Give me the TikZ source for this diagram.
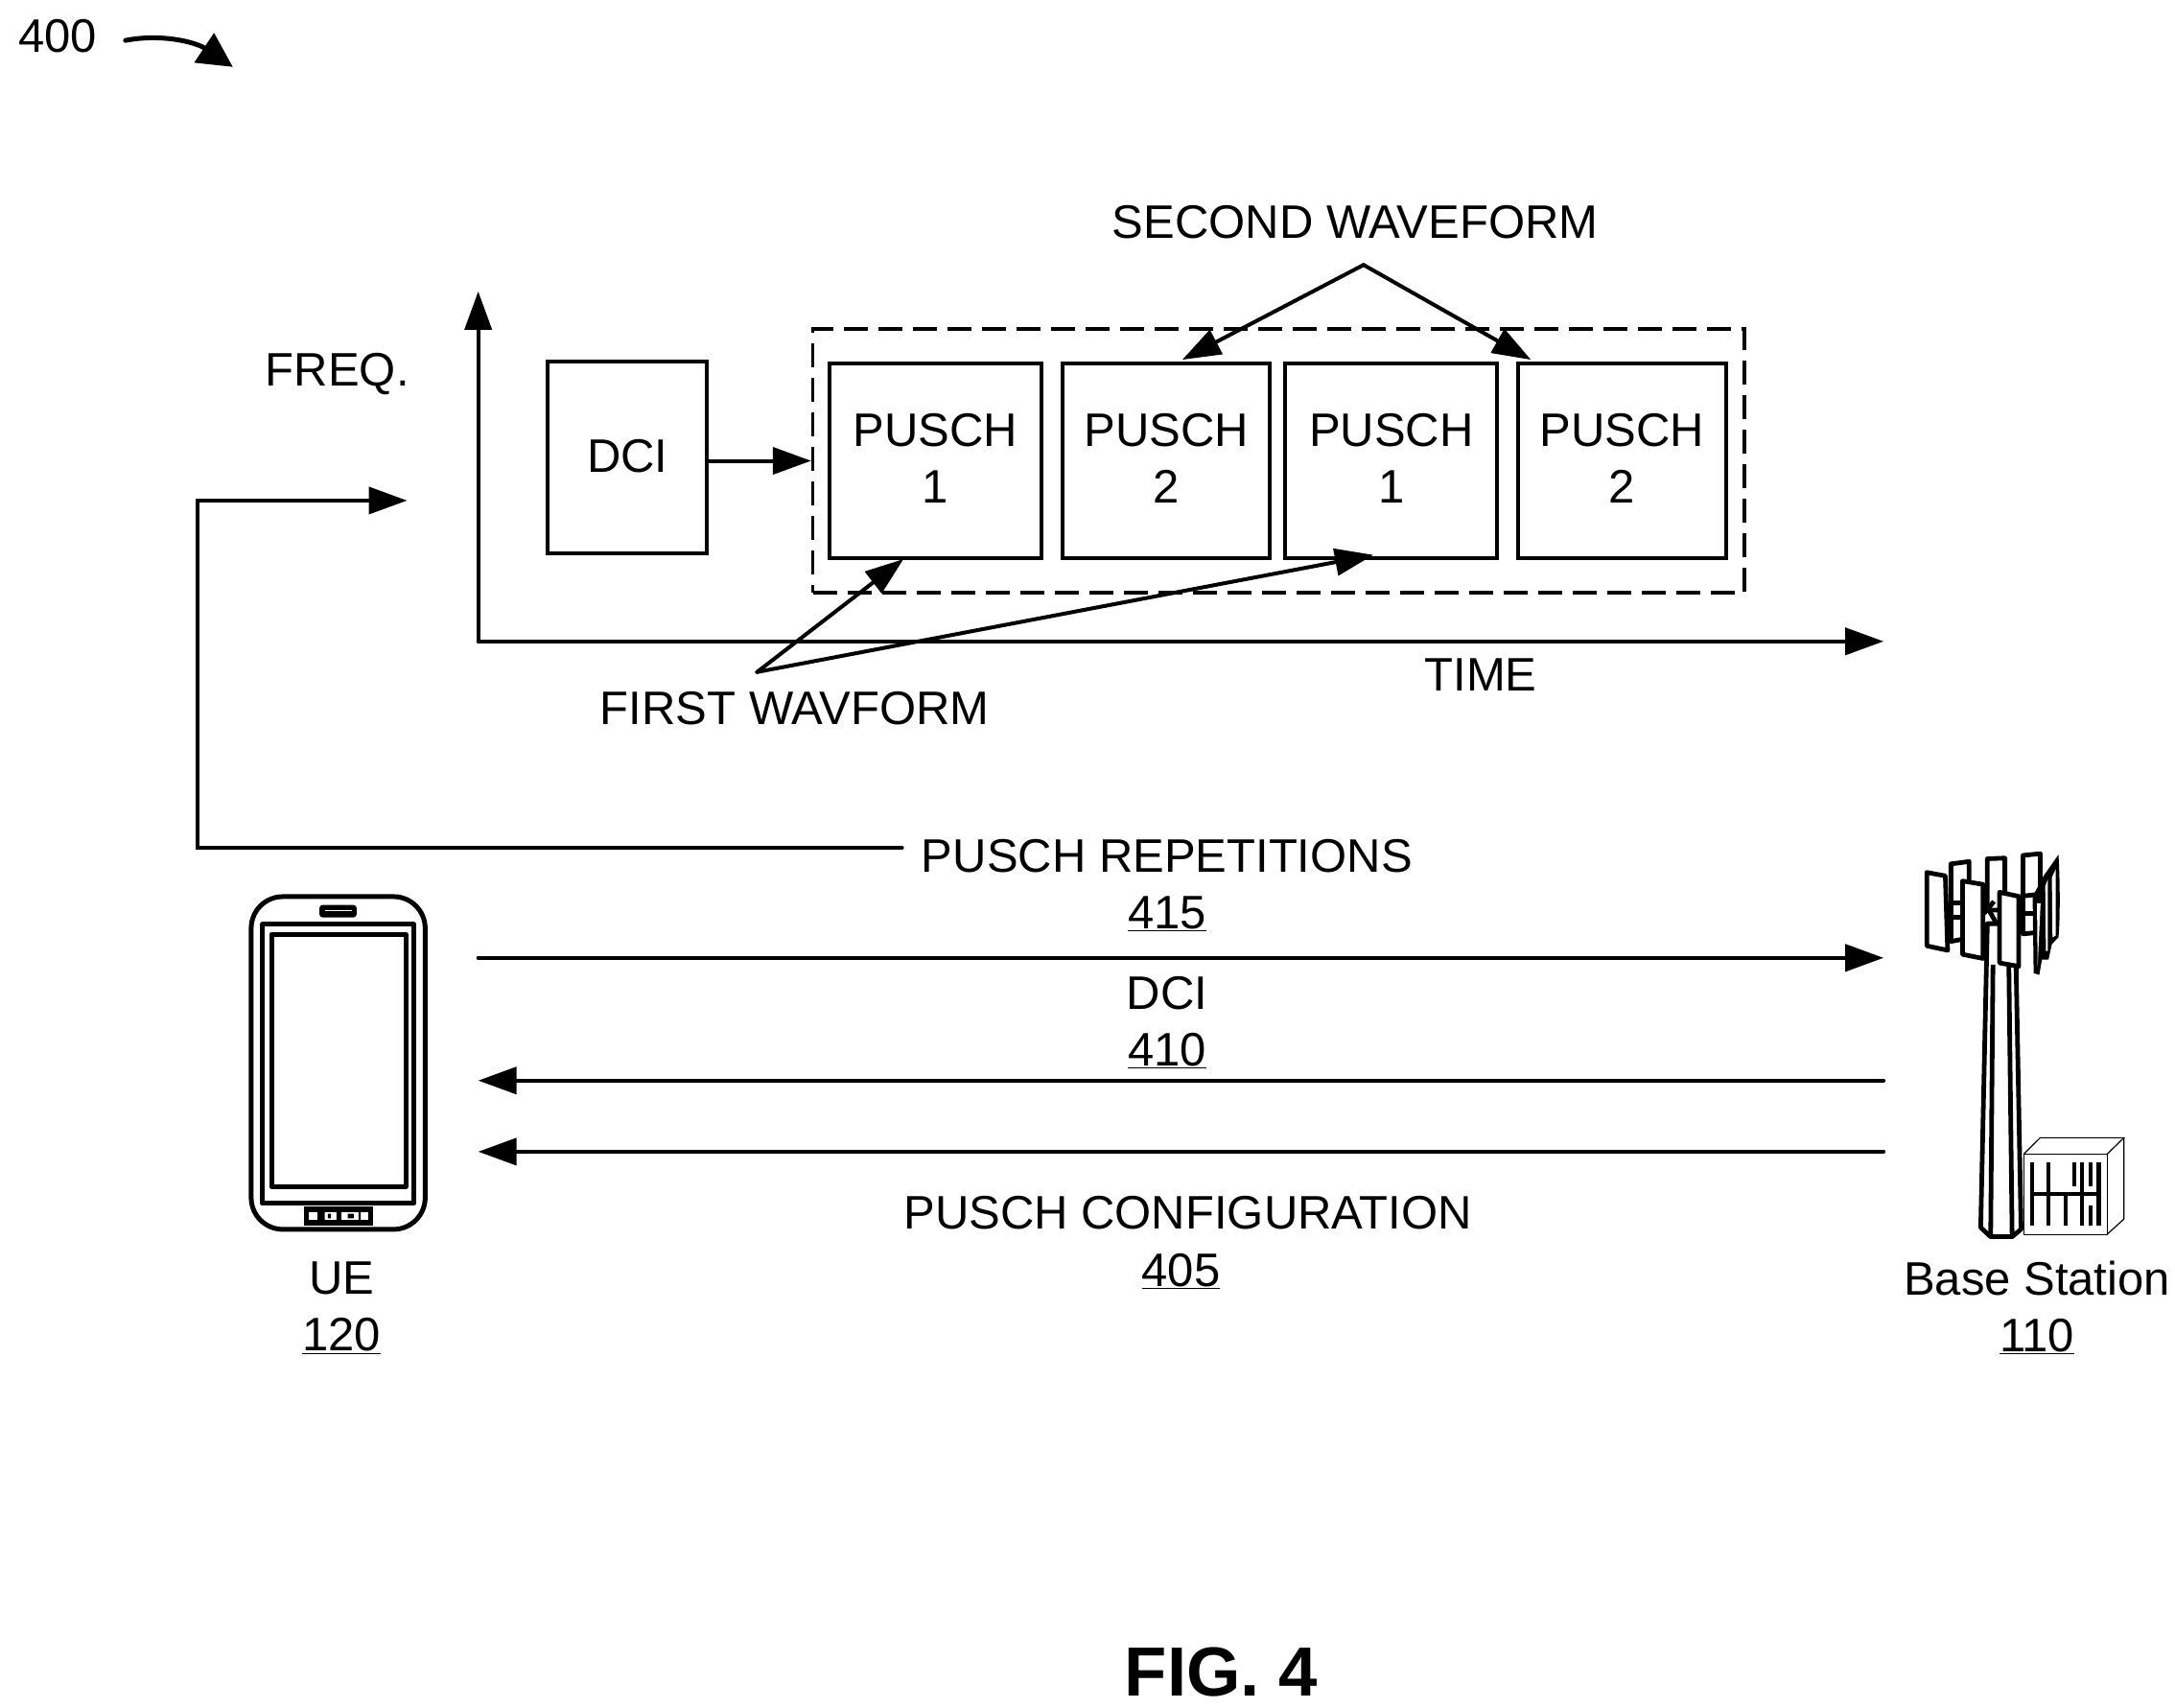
\documentclass[tikz,border=0pt]{standalone}
\usepackage{fontspec}
\setmainfont{Liberation Sans}
\usetikzlibrary{arrows.meta}
\newcommand{\ul}[1]{\underline{#1}}
\tikzset{
 lbl/.style={inner sep=0pt,align=center,font=\fontsize{49}{59}\selectfont},
 ln/.style={line width=4pt,line cap=round,line join=miter},
 arr/.style={ln,-{Triangle[length=40pt,width=28pt]}},
 bx/.style={draw,line width=4pt,inner sep=0pt},
 tw/.style={draw,fill=white,line width=4.8pt,line join=round},
 twb/.style={draw,line width=4.8pt,line join=round},
 ph/.style={draw,line width=5pt,line join=round},
 cab/.style={draw,line width=1.2pt,line join=miter},
 cb/.style={line width=4.2pt},
}
\begin{document}
\begin{tikzpicture}[x=1.45385pt,y=-1.45385pt]
\useasboundingbox (0,0) rectangle (1560,1224.35);
\fill[white] (0,0) rectangle (1560,1224.35);
% reference number
\node[lbl] (n400) at (41.5,26) {400};
\coordinate (r0) at (90,29); \coordinate (r1) at (167,48);
\draw[ln,line width=5pt,-{Triangle[length=36pt,width=36pt]}] (r0) .. controls (115,24) and (140,30) .. (r1);
% axes
\coordinate (o) at (343,460); \coordinate (ytop) at (343,209); \coordinate (xend) at (1351,460);
\draw[arr] (o) -- (ytop);
\draw[arr] (o) -- (xend);
\node[lbl] (freq) at (242,268.5) {FREQ.};
\node[lbl] (time) at (1062,484) {TIME};
% boxes
\node[draw,dashed,dash pattern=on 25pt off 11pt,line width=3.6pt,minimum width=668*1.45385pt,minimum height=189*1.45385pt,inner sep=0pt] (dash) at (917,330.5) {};
\node[bx,minimum width=114*1.45385pt,minimum height=138*1.45385pt] (dci) at (450,328) {};
\node[lbl] (dcit) at (450,327) {DCI};
\node[bx,minimum width=152*1.45385pt,minimum height=139*1.45385pt] (p1) at (671,330.5) {};
\node[bx,minimum width=149*1.45385pt,minimum height=139*1.45385pt] (p2) at (836.5,330.5) {};
\node[bx,minimum width=152*1.45385pt,minimum height=139*1.45385pt] (p3) at (998,330.5) {};
\node[bx,minimum width=149*1.45385pt,minimum height=139*1.45385pt] (p4) at (1163.5,330.5) {};
\node[lbl] (p1t) at (671,329) {PUSCH\\1};
\node[lbl] (p2t) at (836.5,329) {PUSCH\\2};
\node[lbl] (p3t) at (998,329) {PUSCH\\1};
\node[lbl] (p4t) at (1163.5,329) {PUSCH\\2};
\draw[arr] (dash.west -| dci.east) -- (dash.west);
% waveform labels
\node[lbl] (second) at (972,159) {SECOND WAVEFORM};
\coordinate (sa) at (978,190);
\coordinate (s1) at (848,258); \coordinate (s2) at (1098,258);
\draw[arr] (sa) -- (s1);
\draw[arr] (sa) -- (s2);
\node[lbl] (first) at (570,508) {FIRST WAVFORM};
\coordinate (fa) at (543,482);
\coordinate (f1) at (648,401); \coordinate (f2) at (985,398);
\draw[arr] (fa) -- (f1);
\draw[arr] (fa) -- (f2);
% messages
\node[lbl] (rep) at (837,635) {PUSCH REPETITIONS\\\ul{415}};
\coordinate (e0) at (647,608); \coordinate (e1) at (142,608); \coordinate (e2) at (142,359); \coordinate (e3) at (292,359);
\draw[arr] (e0) -- (e1) -- (e2) -- (e3);
\coordinate (ue1) at (343,687); \coordinate (bs1) at (1351,687);
\coordinate (ue2) at (343,775); \coordinate (bs2) at (1351,775);
\coordinate (ue3) at (343,826); \coordinate (bs3) at (1351,826);
\draw[arr] (ue1) -- (bs1);
\draw[arr] (bs2) -- (ue2);
\draw[arr] (bs3) -- (ue3);
\node[lbl] (dcil) at (837,733) {DCI\\\ul{410}};
\node[lbl] (cfg) at (852,870) {PUSCH CONFIGURATION};
\node[lbl] (n405) at (847,912) {\ul{405}};
\node[lbl] (ue) at (245,938) {UE\\\ul{120}};
\node[lbl] (bs) at (1461,938) {Base Station\\\ul{110}};
\node[inner sep=0pt,font=\fontsize{72.5}{80}\selectfont\bfseries] (fig) at (876,1199) {FIG. 4};
% phone (crop coordinates)
\begin{scope}[shift={(231*0.68783,914*0.68783)},x=0.336pt,y=-0.3375pt]
\draw[ph,rounded corners=33pt] (92,62) rectangle (632,1090);
\draw[ph] (127,148) rectangle (597,1010);
\draw[ph] (155,178) rectangle (572,958);
\fill[rounded corners=3pt] (304,88) rectangle (419,126);
\draw[white,line width=.8pt] (320,106) -- (405,106);
\fill (255,1020) rectangle (470,1077);
\fill[white] (270,1036) rectangle (455,1060);
\fill (298,1036) rectangle (320,1060) (330,1042) rectangle (340,1056) (357,1036) rectangle (372,1060) (392,1042) rectangle (410,1056) (425,1036) rectangle (432,1060);
\end{scope}
% base station (crop coordinates)
\begin{scope}[shift={(1936*0.68783,867*0.68783)},x=0.345pt,y=-0.356pt]
% back panels
\draw[tw] (285,95) -- (340,88) -- (340,312) -- (285,322) -- cycle;
\draw[tw] (395,80) -- (448,78) -- (448,230) -- (395,230) -- cycle;
\draw[tw] (503,70) -- (555,65) -- (555,295) -- (503,300) -- cycle;
% right crescents
\fill (565,130) -- (610,68) .. controls (615,150) and (615,260) .. (610,310) -- (590,330) -- (580,375) -- (560,375) -- (552,420) -- (535,415) -- (532,190) -- cycle;
\fill[white] (545,210) -- (547,395) -- (556,210) -- cycle;
\fill[white] (570,160) -- (572,350) -- (578,350) -- (578,140) -- cycle;
\fill[white] (590,135) -- (592,310) -- (602,305) -- (602,110) -- cycle;
% tower
\draw[tw] (395,270) -- (375,1160) -- (405,1187) -- (470,1187) -- (497,1165) -- (482,400) -- (470,270) -- cycle;
\draw[twb] (412,390) -- (405,1187);
\draw[twb] (460,390) -- (470,1187);
% arms
\draw[twb] (290,210) -- (322,210);
\draw[twb] (290,252) -- (322,252);
\draw[twb] (495,190) -- (540,185);
\draw[twb] (500,240) -- (535,240);
\draw[twb] (385,240) -- (415,205);
\draw[twb] (385,205) -- (420,265);
% front panels
\draw[tw] (212,120) -- (268,130) -- (275,348) -- (212,335) -- cycle;
\draw[tw] (320,145) -- (382,155) -- (382,372) -- (320,360) -- cycle;
\draw[tw] (432,178) -- (490,190) -- (490,395) -- (432,385) -- cycle;
% cabinet
\fill[white] (505,945) -- (555,897) -- (808,897) -- (808,1135) -- (757,1180) -- (505,1180) -- cycle;
\draw[cab] (505,945) -- (757,945) -- (757,1180) -- (505,1180) -- cycle;
\draw[cab] (505,945) -- (555,897) -- (808,897) -- (757,945);
\draw[cab] (808,897) -- (808,1135) -- (757,1180);
\draw[cb] (531,970) -- (531,1155);
\draw[cb] (580,970) -- (580,1155);
\draw[cb] (632,1065) -- (632,1155);
\draw[cb] (657,970) -- (657,1040);
\draw[cb] (680,970) -- (680,1155);
\draw[cb] (707,970) -- (707,1040);
\draw[cb] (707,1095) -- (707,1155);
\draw[cb] (732,970) -- (732,1155);
\draw[cb] (531,1062) -- (732,1062);
\end{scope}
\end{tikzpicture}
\end{document}
